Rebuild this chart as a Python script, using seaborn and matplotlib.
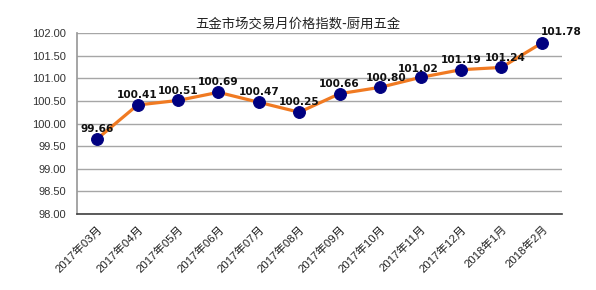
import matplotlib
matplotlib.use("Agg")
import matplotlib.pyplot as plt
import seaborn as sns
import numpy as np
import pandas as pd
from matplotlib.ticker import FixedLocator, MultipleLocator

months = ["2017年03月", "2017年04月", "2017年05月", "2017年06月", "2017年07月", "2017年08月",
          "2017年09月", "2017年10月", "2017年11月", "2017年12月", "2018年1月", "2018年2月"]
values = [99.66, 100.41, 100.51, 100.69, 100.47, 100.25, 100.66, 100.80, 101.02, 101.19, 101.24, 101.78]
title = "五金市场交易月价格指数-厨用五金"

sns.set_theme(style="white")
plt.rcParams['font.family'] = ['Liberation Sans', 'Noto Sans CJK SC', 'DejaVu Sans']

fig = plt.figure(figsize=(5.96, 2.90), dpi=100)
ax = fig.add_axes([0.129, 0.262, 0.814, 0.624])

df = pd.DataFrame({"pos": np.arange(len(months)), "value": values})
sns.lineplot(data=df, x="pos", y="value", ax=ax, color="#F07A22", linewidth=2.3,
             marker="o", markersize=8.5, markerfacecolor="#000080", markeredgecolor="#000080",
             zorder=3)

ax.set_xlim(-0.5, len(months) - 0.5)
ax.set_ylim(98.0, 102.0)
ax.yaxis.set_major_locator(MultipleLocator(0.5))
ax.set_yticklabels([f"{v:.2f}" for v in ax.get_yticks()])
ax.grid(axis="y", color="#A6A6A6", linewidth=1.0)
ax.set_axisbelow(True)

ax.set_xticks(df["pos"])
ax.set_xticklabels(months, rotation=45, ha="right", rotation_mode="anchor",
                   fontsize=8.2, color="#222222", family=['Liberation Sans', 'Noto Sans CJK SC'])
ax.tick_params(axis="x", which="major", length=0, pad=7)
ax.xaxis.set_minor_locator(FixedLocator(np.arange(-0.5, len(months), 1.0)))
ax.tick_params(axis="x", which="minor", length=3, direction="in", color="#404040", width=1)
ax.tick_params(axis="y", length=0, labelsize=8, labelcolor="#333333", pad=8)

ax.set_xlabel("")
ax.set_ylabel("")
for s in ["top", "right"]:
    ax.spines[s].set_visible(False)
ax.spines["left"].set_color("#9A9A9A")
ax.spines["bottom"].set_color("#404040")
ax.spines["bottom"].set_linewidth(1.2)

offsets = {7: (4, 3), 8: (-2, 2.5), 10: (3, 3.5), 11: (14, 4)}
for i, v in enumerate(values):
    dx, dy = offsets.get(i, (0, 3.5))
    ax.annotate(f"{v:.2f}", (i, v), xytext=(dx, dy), textcoords="offset points",
                ha="center", va="bottom", fontsize=7.6, fontweight="bold",
                family="DejaVu Sans", color="#111111", zorder=4)

fig.text(0.5, 0.92, title, ha="center", va="center", fontsize=9.6,
         family=['Noto Sans CJK SC'], color="#222222", fontweight="medium")

fig.savefig("out.png", dpi=100)
